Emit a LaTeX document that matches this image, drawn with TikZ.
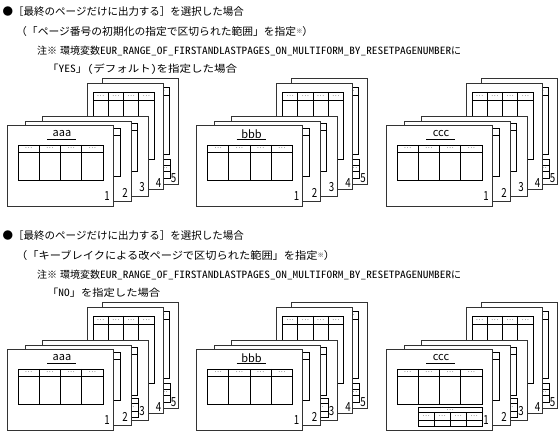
\documentclass[tikz,border=0pt]{standalone}
\usepackage{fontspec}
\usepackage{graphicx}
\newfontfamily\jp{Noto Sans CJK JP}
\newfontfamily\jphw{Noto Sans CJK JP}[RawFeature=+hwid]
\tikzset{
  pg/.style={draw=black!80, line width=1pt, fill=white},
  tbl/.style={draw=black, line width=0.7pt},
  dotsx/.style={font=\jp\fontsize{7}{7}\selectfont, inner sep=0pt, text=black!75},
  pnum/.style={font=\jp\fontsize{12.5}{12.5}\selectfont, inner sep=0pt},
  lbl/.style={font=\jp\fontsize{11}{11}\selectfont, inner sep=0pt},
  hA/.style={font=\jp\fontsize{10.5}{10.5}\selectfont, inner sep=0pt, anchor=west},
  hB/.style={font=\jp\fontsize{10}{10}\selectfont, inner sep=0pt, anchor=west},
}
% main table grid: x1, x2, ytop, yhdr, ybot
\newcommand\MTable[5]{%
  \draw[tbl, fill=white] (#1,#3) rectangle (#2,#5);
  \draw[tbl] (#1,#4) -- (#2,#4);
  \foreach \i in {1,2,3}{\pgfmathsetmacro\cx{#1+\i*(#2-#1)/4}\draw[tbl] (\cx,#3) -- (\cx,#5);}
}
% header dots: prefix, x1, x2, ytop, yhdr, list of cells
\newcommand\MDots[6]{%
  \foreach \i in {#6}{\pgfmathsetmacro\cx{#2+(\i+0.5)*(#3-#2)/4}\pgfmathsetmacro\cy{(#4+#5)/2}\node[dotsx] (#1-h\i) at (\cx,\cy) {…};}
}
% footer table: x1, x2, y1, y2, y3, y4
\newcommand\FTable[6]{%
  \draw[tbl, fill=white] (#1,#3) rectangle (#2,#6);
  \draw[tbl] (#1,#4) -- (#2,#4);
  \draw[tbl] (#1,#5) -- (#2,#5);
  \foreach \i in {1,2,3}{\pgfmathsetmacro\cx{#1+\i*(#2-#1)/4}\draw[tbl] (\cx,#4) -- (\cx,#6);}
}
% landscape page with title: prefix, x, y, title, num, footer
\newcommand\PageA[6]{%
  \begin{scope}[shift={(#2,#3)}]
    \draw[pg] (0,0) rectangle (106,81);
    \node[lbl] (#1-title) at (55,8) {#4};
    \draw[tbl] (40,13.5) -- (69,13.5);
    \MTable{11}{96}{19}{26}{54}
    \MDots{#1}{11}{96}{19}{26}{0,1,2,3}
    \ifnum#6=1
      \FTable{32}{96}{57}{62.5}{70}{76}
      \node[dotsx] (#1-ft) at (64,59.75) {…};
      \MDots{#1-f}{32}{96}{62.5}{70}{0,1,2,3}
    \fi
    \node[pnum] (#1-num) at (100,70.5) {\scalebox{0.78}[1]{#5}};
  \end{scope}}
% landscape page without title: prefix, x, y, num, footer
\newcommand\PageB[5]{%
  \begin{scope}[shift={(#2,#3)}]
    \draw[pg] (0,0) rectangle (106,80);
    \MTable{11}{95}{6}{13.5}{54}
    \ifnum#5=1
      \FTable{32.5}{96.5}{57}{62.5}{70}{76}
      \MDots{#1-f}{32.5}{96.5}{62.5}{70}{3}
    \fi
    \node[pnum] (#1-num) at (100,70.5) {\scalebox{0.78}[1]{#4}};
  \end{scope}}
% portrait page: prefix, x, y, num, footer, header dot cells
\newcommand\PageC[6]{%
  \begin{scope}[shift={(#2,#3)}]
    \draw[pg] (0,0) rectangle (76,106);
    \MTable{6}{67}{8}{16}{75}
    \MDots{#1}{6}{67}{8}{16}{#6}
    \ifnum#5=1
      \FTable{21}{68}{80}{86}{92}{99}
      \MDots{#1-f}{21}{68}{86}{92}{3}
    \fi
    \node[pnum] (#1-num) at (71.5,99) {\scalebox{0.78}[1]{#4}};
  \end{scope}}
% group: prefix, x, y, title, footer p1, footer p3, footer p5
\newcommand\Group[7]{%
  \begin{scope}[shift={(#2,#3)}]
    \PageC{#1p5}{95}{-47}{5}{#7}{3}
    \PageC{#1p4}{80}{-42}{4}{0}{0,1,2,3}
    \PageB{#1p3}{35}{-9}{3}{#6}
    \PageB{#1p2}{18}{-4}{2}{0}
    \PageA{#1p1}{0}{0}{#4}{1}{#5}
  \end{scope}}
\newcommand\smallnote{\raisebox{2.5pt}{\fontsize{6}{6}\selectfont ※}}
\newcommand\envname{\resizebox{351pt}{\height}{\jphw EUR\_RANGE\_OF\_FIRSTANDLASTPAGES\_ON\_MULTIFORM\_BY\_RESETPAGENUMBER}}
\begin{document}
\begin{tikzpicture}[x=1pt,y=-1pt]
  \useasboundingbox (0,0) rectangle (560,435);
  \fill[white] (0,0) rectangle (560,435);
  % ---- upper section ----
  \node[hA] (u1) at (2.5,12) {●［最終のページだけに出力する］を選択した場合};
  \node[hA] (u2) at (16,32) {\resizebox{297pt}{\height}{（「ページ番号の初期化の指定で区切られた範囲」を指定\smallnote）}};
  \node[hB] (u3) at (37,51) {注※\hspace{3pt}環境変数\envname に};
  \node[hB] (u4) at (47,69) {\resizebox{190pt}{\height}{「{\jphw YES}」{\jphw(}デフォルト{\jphw)}を指定した場合}};
  \Group{ua}{7}{126}{aaa}{0}{0}{1}
  \Group{ub}{196.5}{126}{bbb}{0}{0}{1}
  \Group{uc}{386}{126}{ccc}{0}{0}{1}
  % ---- lower section ----
  \node[hA] (l1) at (2.5,236) {●［最終のページだけに出力する］を選択した場合};
  \node[hA] (l2) at (16,256) {\resizebox{319pt}{\height}{（「キーブレイクによる改ページで区切られた範囲」を指定\smallnote）}};
  \node[hB] (l3) at (37,275) {注※\hspace{3pt}環境変数\envname に};
  \node[hB] (l4) at (47,293) {\resizebox{113pt}{\height}{「{\jphw NO}」を指定した場合}};
  \Group{la}{7}{350}{aaa}{0}{1}{1}
  \Group{lb}{196.5}{350}{bbb}{0}{1}{1}
  \Group{lc}{386}{350}{ccc}{1}{1}{1}
\end{tikzpicture}
\end{document}
